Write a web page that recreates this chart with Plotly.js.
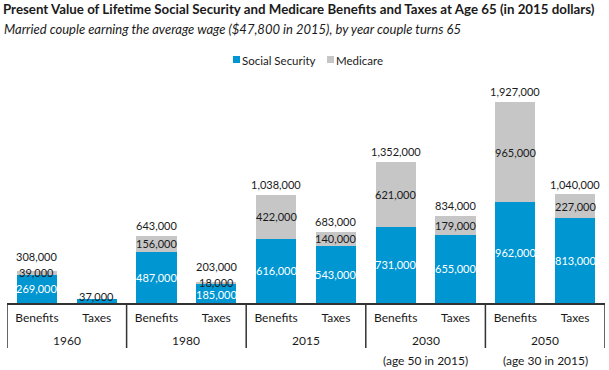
<!DOCTYPE html>
<html>
<head>
<meta charset="utf-8">
<script src="https://cdn.plot.ly/plotly-3.0.1.min.js"></script>
<style>html,body{margin:0;padding:0;background:#fff;}#chart{width:609px;height:370px;}</style>
</head>
<body>
<div id="chart"></div>
<script>
// ---- data ----
var categories = ["Benefits","Taxes","Benefits","Taxes","Benefits","Taxes","Benefits","Taxes","Benefits","Taxes"];
var years = ["1960","1980","2015","2030","2050"];
var yearNotes = ["","","","(age 50 in 2015)","(age 30 in 2015)"];
var socialSecurity = [269000, 37000, 487000, 185000, 616000, 543000, 731000, 655000, 962000, 813000];
var medicare = [39000, 0, 156000, 18000, 422000, 140000, 621000, 179000, 965000, 227000];

// ---- styling ----
var BLUE = "#0096d1", GRAY = "#c6c6c6", INK = "#1a1a1a", LINE = "#333333";
var FONT = "Lato, 'Open Sans', sans-serif";
var idx = categories.map(function(_, i){ return i; });
function fmt(v){ return v.toLocaleString("en-US"); }

var plotL = 7, plotW = 598, plotB = 303, plotH = 209, YMAX = 2000000;
var pxPerUnit = plotH / YMAX;

var traces = [
  {type:"bar", name:"Social Security", x:idx, y:socialSecurity, marker:{color:BLUE}, hoverinfo:"none"},
  {type:"bar", name:"Medicare", x:idx, y:medicare, marker:{color:GRAY}, hoverinfo:"none"}
];

var annotations = [];
var labelFont = 11;
var SEG_GAP = 12, TOT_GAP = 16, TOT_OFF = 10;
function addLabel(i, anchorVal, wantPx, text, color){
  annotations.push({x:i, y:anchorVal, xref:"x", yref:"y", text:text, showarrow:false,
    yanchor:"middle", yshift:wantPx - anchorVal*pxPerUnit,
    font:{family:FONT, size:labelFont, color:color}});
}
idx.forEach(function(i){
  var ss = socialSecurity[i], md = medicare[i], tot = ss + md;
  var topPx = tot*pxPerUnit;
  if (md > 0) {
    var ssPx = ss*pxPerUnit/2, mdPx = (ss + md/2)*pxPerUnit;
    if (mdPx - ssPx < SEG_GAP) {
      var mid = (ssPx + mdPx)/2;
      ssPx = mid - SEG_GAP/2; mdPx = mid + SEG_GAP/2;
    }
    var totPx = Math.max(topPx + TOT_OFF, mdPx + TOT_GAP);
    addLabel(i, ss/2, ssPx, fmt(ss), ss*pxPerUnit < 10 ? INK : "#ffffff");
    addLabel(i, ss + md/2, mdPx, fmt(md), INK);
    addLabel(i, tot, totPx, fmt(tot), INK);
  } else {
    addLabel(i, tot, topPx + 3, fmt(ss), INK);
  }
});

var shapes = [];
years.forEach(function(yr, g){
  annotations.push({x:2*g + 0.5, y:0, xref:"x", yref:"paper", text:yr, showarrow:false,
    yanchor:"middle", yshift:-37, font:{family:FONT, size:12, color:INK}});
  if (yearNotes[g]) {
    annotations.push({x:2*g + 0.5, y:0, xref:"x", yref:"paper", text:yearNotes[g], showarrow:false,
      yanchor:"middle", yshift:-57, font:{family:FONT, size:12, color:INK}});
  }
});
for (var b = 0; b <= years.length; b++) {
  shapes.push({type:"line", xref:"x", yref:"paper", x0:2*b - 0.5, x1:2*b - 0.5,
    ysizemode:"pixel", yanchor:0, y0:0, y1:-45, line:{color:LINE, width:1.5}});
}

// manual legend (small squares)
function px(xp){ return (xp - plotL)/plotW; }
function py(yp){ return (plotB - yp)/plotH; }
shapes.push({type:"rect", xref:"paper", yref:"paper", x0:px(233), x1:px(240), y0:py(63), y1:py(56), fillcolor:BLUE, line:{width:0}});
shapes.push({type:"rect", xref:"paper", yref:"paper", x0:px(327), x1:px(334), y0:py(63), y1:py(56), fillcolor:GRAY, line:{width:0}});
annotations.push({xref:"paper", yref:"paper", x:px(240), y:py(60), xanchor:"left", yanchor:"middle",
  text:traces[0].name, showarrow:false, font:{family:FONT, size:11.5, color:INK}});
annotations.push({xref:"paper", yref:"paper", x:px(334), y:py(60), xanchor:"left", yanchor:"middle",
  text:traces[1].name, showarrow:false, font:{family:FONT, size:11.5, color:INK}});

// subtitle
annotations.push({xref:"paper", yref:"paper", x:px(2), y:py(29), xanchor:"left", yanchor:"middle",
  text:"<i>Married couple earning the average wage ($47,800 in 2015), by year couple turns 65</i>",
  showarrow:false, font:{family:FONT, size:13, color:INK}});

var layout = {
  width:609, height:370,
  margin:{l:plotL, r:609 - plotL - plotW, t:plotB - plotH, b:370 - plotB, pad:0},
  paper_bgcolor:"#ffffff", plot_bgcolor:"#ffffff",
  barmode:"stack", bargap:0.33,
  showlegend:false,
  title:{text:"<b>Present Value of Lifetime Social Security and Medicare Benefits and Taxes at Age 65 (in 2015 dollars)</b>",
    x:3/609, xanchor:"left", y:1 - 9.5/370, yanchor:"middle", xref:"container",
    font:{family:FONT, size:13.3, color:INK}},
  xaxis:{range:[-0.5, 9.5], tickvals:idx, ticktext:categories, showline:true, linecolor:LINE, linewidth:1.5,
    ticks:"", showgrid:false, zeroline:false, fixedrange:true, ticklabelstandoff:3,
    tickfont:{family:FONT, size:12, color:INK}},
  yaxis:{range:[0, YMAX], visible:false, showgrid:false, zeroline:false, fixedrange:true},
  annotations:annotations, shapes:shapes
};

Plotly.newPlot("chart", traces, layout, {displayModeBar:false, staticPlot:true});
</script>
</body>
</html>
